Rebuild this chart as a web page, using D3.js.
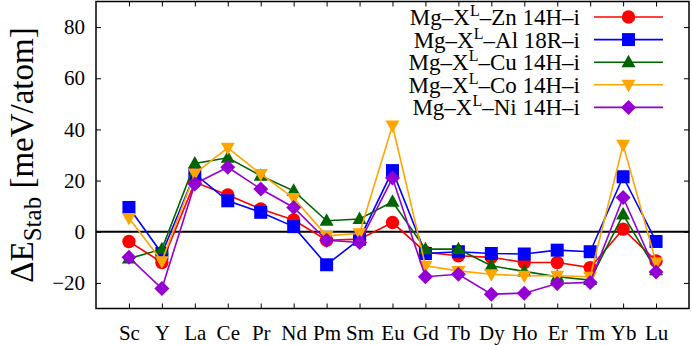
<!DOCTYPE html>
<html>
<head>
<meta charset="utf-8">
<title>Stabilization energies</title>
<style>
  body { margin: 0; background: #fff; }
  text { font-family: "Liberation Serif", "DejaVu Serif", serif; }
</style>
</head>
<body>
<script src="https://d3js.org/d3.v7.min.js"></script>
<script>

// elements on the x axis
var elements = ["Sc","Y","La","Ce","Pr","Nd","Pm","Sm","Eu","Gd","Tb","Dy","Ho","Er","Tm","Yb","Lu"];

// values in meV/atom
var zn14H = [-3.8, -12, 19.3, 14.4, 8.9, 4.6, -3.3, -2.9, 3.6, -8, -9.4, -10, -12, -12, -14, 1, -11.4];
var al18R = [9.5, -8.5, 22.6, 12.1, 7.6, 2, -12.9, -2.9, 23.9, -8.5, -7.8, -8.5, -8.7, -7.2, -7.8, 21.5, -3.8];
var cu14H = [-10.5, -6.8, 26.7, 28.9, 21.9, 16, 4.3, 5, 11.7, -6.8, -6.8, -13.3, -15.5, -17.6, -18.9, 6.7, -15];
var co14H = [5.4, -11.5, 22.8, 32.8, 22.6, 13.2, -1.6, -0.6, 41.5, -13.3, -15.3, -16.6, -17.2, -17.2, -17.6, 34, -12];
var ni14H = [-10, -22.2, 18.7, 25.2, 16.7, 9.5, -3.3, -4.2, 21, -17.6, -16.6, -24.4, -24, -20.2, -19.8, 13.4, -15.7];

var seriesNames = ["Zn 14H\u2013i", "Al 18R\u2013i", "Cu 14H\u2013i", "Co 14H\u2013i", "Ni 14H\u2013i"];
var seriesValues = [zn14H, al18R, cu14H, co14H, ni14H];
var seriesColors = ["#ff0000", "#0000ff", "#006400", "#ffa500", "#9400d3"];
var seriesSymbols = ["circle", "square", "up", "down", "diamond"];

var yTicks = [-20, 0, 20, 40, 60, 80];

var W = 692, H = 345;
var pLeft = 96, pRight = 689, pTop = 1.5, pBottom = 308.5;

var svg = d3.select("body").append("svg")
    .attr("width", W)
    .attr("height", H);

var x = d3.scaleLinear().domain([-1, elements.length]).range([pLeft, pRight]);
var y = d3.scaleLinear().domain([-30, 90]).range([pBottom, pTop]);

// ticks, all pointing inwards, mirrored on top and right
var xAxisB = d3.axisBottom(x).tickValues(d3.range(elements.length)).tickSize(-5)
    .tickFormat(function(i){ return elements[i]; }).tickPadding(17);
var xAxisT = d3.axisTop(x).tickValues(d3.range(elements.length)).tickSize(-5).tickFormat("");
var yAxisL = d3.axisLeft(y).tickValues(yTicks).tickSize(-5).tickPadding(11)
    .tickFormat(function(d){ return d < 0 ? "\u2212" + Math.abs(d) : d; });
var yAxisR = d3.axisRight(y).tickValues(yTicks).tickSize(-5).tickFormat("");

function styleAxis(g) {
  g.select(".domain").remove();
  g.selectAll(".tick line").attr("stroke", "#000").attr("stroke-width", 1);
  g.selectAll(".tick text").attr("fill", "#000").style("font-size", "21px")
    .style("font-family", "'Liberation Serif', serif");
}

svg.append("g").attr("transform", "translate(0," + pBottom + ")").call(xAxisB).call(styleAxis);
svg.append("g").attr("transform", "translate(0," + pTop + ")").call(xAxisT).call(styleAxis);
svg.append("g").attr("transform", "translate(" + pLeft + ",0)").call(yAxisL).call(styleAxis);
svg.append("g").attr("transform", "translate(" + pRight + ",0)").call(yAxisR).call(styleAxis);

// zero line
svg.append("line")
    .attr("x1", pLeft).attr("x2", pRight)
    .attr("y1", y(0)).attr("y2", y(0))
    .attr("stroke", "#000").attr("stroke-width", 2);

// marker shapes
function markerPath(sym) {
  if (sym === "up") return "M0,-7.5L7,5L-7,5Z";
  if (sym === "down") return "M0,7.5L7,-5L-7,-5Z";
  if (sym === "diamond") return "M0,-7.5L7.5,0L0,7.5L-7.5,0Z";
  if (sym === "square") return d3.symbol().type(d3.symbolSquare).size(169)();
  return d3.symbol().type(d3.symbolCircle).size(140)();
}

var line = d3.line()
    .x(function(d, i){ return x(i); })
    .y(function(d){ return y(d); });

var plot = svg.append("g");

seriesValues.forEach(function(vals, s) {
  var g = plot.append("g");
  g.append("path")
      .attr("d", line(vals))
      .attr("fill", "none")
      .attr("stroke", seriesColors[s])
      .attr("stroke-width", 1.6);
  g.selectAll("path.pt")
      .data(vals)
      .enter()
      .append("path")
      .attr("class", "pt")
      .attr("transform", function(d, i){ return "translate(" + x(i) + "," + y(d) + ")"; })
      .attr("d", markerPath(seriesSymbols[s]))
      .attr("fill", seriesColors[s]);
});

// legend
var legend = svg.append("g");
seriesNames.forEach(function(name, s) {
  var ly = 17 + s * 22.6;
  var t = legend.append("text")
      .attr("x", 580).attr("y", ly + 8)
      .attr("text-anchor", "end")
      .style("font-size", "23px");
  t.append("tspan").text("Mg\u2013X");
  t.append("tspan").attr("dy", -9).style("font-size", "16px").text("L");
  t.append("tspan").attr("dy", 9).text("\u2013" + name);
  legend.append("line")
      .attr("x1", 594).attr("x2", 663)
      .attr("y1", ly).attr("y2", ly)
      .attr("stroke", seriesColors[s]).attr("stroke-width", 1.6);
  legend.append("path")
      .attr("transform", "translate(628.5," + ly + ")")
      .attr("d", markerPath(seriesSymbols[s]))
      .attr("fill", seriesColors[s]);
});

// frame
svg.append("rect")
    .attr("x", pLeft).attr("y", pTop)
    .attr("width", pRight - pLeft).attr("height", pBottom - pTop)
    .attr("fill", "none").attr("stroke", "#000").attr("stroke-width", 1.5);

// y axis title
var yt = svg.append("text")
    .attr("transform", "translate(33,155) rotate(-90)")
    .attr("text-anchor", "middle")
    .style("font-size", "33px");
yt.append("tspan").text("\u0394E");
yt.append("tspan").attr("dy", 8).style("font-size", "25px").text("Stab");
yt.append("tspan").attr("dy", -8).text(" [meV/atom]");

</script>
</body>
</html>
